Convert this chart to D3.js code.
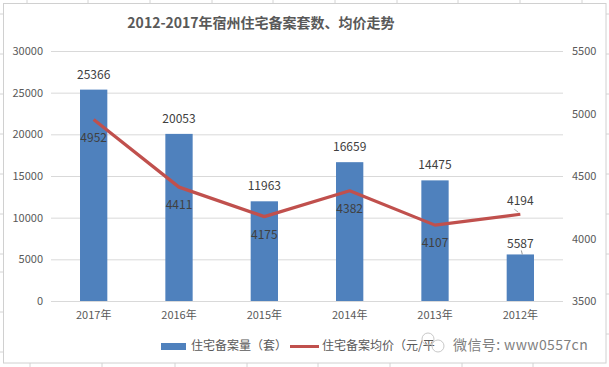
<!DOCTYPE html>
<html><head><meta charset="utf-8">
<script src="https://cdn.jsdelivr.net/npm/d3@7/dist/d3.min.js"></script>
<style>body{margin:0;background:#fff;}svg{display:block;font-family:"Noto Sans CJK SC","Liberation Sans",sans-serif;}</style>
</head><body>
<script>
const categories = ["2017年","2016年","2015年","2014年","2013年","2012年"];
const volume = [25366, 20053, 11963, 16659, 14475, 5587];
const price = [4952, 4411, 4175, 4382, 4107, 4194];
const leftTicks = [0,5000,10000,15000,20000,25000,30000];
const rightTicks = [3500,4000,4500,5000,5500];
const title = "2012-2017年宿州住宅备案套数、均价走势";
const legendNames = ["住宅备案量（套）","住宅备案均价（元/平"];

const W=609,H=367;
const svg=d3.select("body").append("svg").attr("width",W).attr("height",H);
const grid="#d4d4d4";
[27,88,150,212,273,335,397,458,520,582].forEach(x=>svg.append("line").attr("x1",x).attr("x2",x).attr("y1",0).attr("y2",3).attr("stroke",grid));
[30,102,175,247,318,390,462,533].forEach(x=>svg.append("line").attr("x1",x).attr("x2",x).attr("y1",363).attr("y2",H).attr("stroke",grid));
[14,54,94,134,174,214,254,272,312,352].forEach(y=>svg.append("line").attr("x1",0).attr("x2",3).attr("y1",y).attr("y2",y).attr("stroke",grid));
[14,54,94,134,174,214,254,294,334].forEach(y=>svg.append("line").attr("x1",606).attr("x2",W).attr("y1",y).attr("y2",y).attr("stroke",grid));
svg.append("rect").attr("x",3.5).attr("y",3.5).attr("width",602.5).attr("height",359.5).attr("fill","#fff").attr("stroke","#d0d0d0");

const x=d3.scaleBand().domain(categories).range([51,563]).paddingInner(0.68).paddingOuter(0.34);
const yL=d3.scaleLinear().domain([0,30000]).range([301,51]);
const yR=d3.scaleLinear().domain([3500,5500]).range([301,51]);

svg.append("text").attr("x",261).attr("y",28).attr("text-anchor","middle").attr("font-size",14).attr("font-weight","bold").attr("fill","#595959").text(title);

svg.append("g").selectAll("line").data(leftTicks).join("line")
 .attr("x1",51).attr("x2",563).attr("y1",d=>yL(d)+0.5).attr("y2",d=>yL(d)+0.5).attr("stroke","#d9d9d9");

const fmt=d3.format("d");
const axL=svg.append("g").attr("transform","translate(51,0)").call(d3.axisLeft(yL).tickValues(leftTicks).tickFormat(fmt).tickSize(0).tickPadding(8));
const axR=svg.append("g").attr("transform","translate(563,0)").call(d3.axisRight(yR).tickValues(rightTicks).tickFormat(fmt).tickSize(0).tickPadding(9));
const axB=svg.append("g").attr("transform","translate(0,301)").call(d3.axisBottom(x).tickSize(0).tickPadding(10));
[axL,axR,axB].forEach(a=>{a.select(".domain").remove();a.selectAll("text").attr("font-size",11).attr("fill","#595959").attr("font-family","\"Noto Sans CJK SC\",sans-serif");});

svg.append("g").selectAll("rect").data(volume).join("rect")
 .attr("x",(d,i)=>x(categories[i])).attr("width",x.bandwidth())
 .attr("y",d=>yL(d)).attr("height",d=>301-yL(d)).attr("fill","#4f81bd");

const line=d3.line().x((d,i)=>x(categories[i])+x.bandwidth()/2).y(d=>yR(d));
svg.append("path").datum(price).attr("d",line).attr("fill","none").attr("stroke","#c0504d").attr("stroke-width",3.2).attr("stroke-linejoin","round");

svg.append("g").selectAll("text").data(volume).join("text")
 .attr("x",(d,i)=>x(categories[i])+x.bandwidth()/2)
 .attr("y",(d,i)=>yL(d)-(i===5?6:11)).attr("text-anchor","middle").attr("font-size",12).attr("fill","#404040").text(d=>d);
svg.append("line").attr("x1",x(categories[5])+x.bandwidth()/2+1).attr("x2",x(categories[5])+x.bandwidth()/2+2).attr("y1",yL(volume[5])-4).attr("y2",yL(volume[5])).attr("stroke","#999");
svg.append("g").selectAll("text").data(price).join("text")
 .attr("x",(d,i)=>x(categories[i])+x.bandwidth()/2)
 .attr("y",(d,i)=>i===5?yR(d)-9:yR(d)+22).attr("text-anchor","middle").attr("font-size",12).attr("fill","#404040").text(d=>d);
svg.append("path").attr("d",`M${x(categories[5])+x.bandwidth()/2-6},${yR(price[5])-5}L${x(categories[5])+x.bandwidth()/2-2},${yR(price[5])-2}`).attr("stroke","#aaa").attr("fill","none");

svg.append("rect").attr("x",161).attr("y",343).attr("width",25).attr("height",7).attr("fill","#4f81bd");
svg.append("text").attr("x",191).attr("y",350).attr("font-size",12).attr("fill","#595959").text(legendNames[0]);
svg.append("line").attr("x1",290).attr("x2",319).attr("y1",346.5).attr("y2",346.5).attr("stroke","#c0504d").attr("stroke-width",3);
svg.append("text").attr("x",322).attr("y",350).attr("font-size",12).attr("fill","#595959").text(legendNames[1]);

const wm=svg.append("g").attr("stroke","#c8c8c8").attr("fill","none").attr("stroke-width",1);
wm.append("circle").attr("cx",428).attr("cy",339).attr("r",6);
wm.append("circle").attr("cx",438).attr("cy",346).attr("r",6);
svg.append("text").attr("x",453).attr("y",350).attr("font-size",14).attr("letter-spacing",0.4).attr("fill","#808080").text("微信号: www0557cn");
</script>
</body></html>
